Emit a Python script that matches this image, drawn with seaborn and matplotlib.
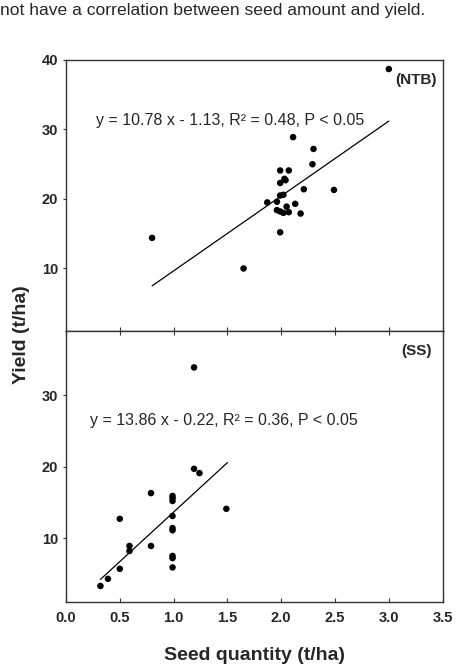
import seaborn as sns
import matplotlib.pyplot as plt
import pandas as pd

# datos
ntb_seed = [3.0, 0.8, 1.65, 2.11, 2.3, 2.29, 1.99, 2.07, 2.03, 2.04, 1.99, 2.21, 2.49,
            1.99, 2.02, 1.87, 1.96, 2.13, 2.05, 1.96, 1.99, 2.02, 2.07, 2.18, 1.99]
ntb_yield = [38.7, 14.4, 10.0, 28.9, 27.2, 25.0, 24.1, 24.1, 22.9, 22.7, 22.3, 21.4, 21.3,
             20.5, 20.6, 19.5, 19.6, 19.3, 18.9, 18.4, 18.2, 18.0, 18.1, 17.9, 15.2]
ss_seed = [1.19, 1.19, 1.24, 0.79, 0.99, 0.99, 0.99, 1.49, 0.99, 0.5, 0.99, 0.99, 0.59,
           0.79, 0.59, 0.99, 0.99, 0.5, 0.99, 0.39, 0.32]
ss_yield = [33.9, 19.7, 19.1, 16.3, 15.9, 15.6, 15.2, 14.1, 13.1, 12.7, 11.4, 11.1, 8.9,
            8.9, 8.2, 7.5, 7.2, 5.7, 5.9, 4.3, 3.3]

# rectas de regresion (pendiente, intercepto, rango x)
ntb_fit = (10.78, -1.13, [0.8, 3.0])
ss_fit = (13.86, -0.22, [0.32, 1.5])
ntb_eq = "y = 10.78 x - 1.13, R\u00b2 = 0.48, P < 0.05"
ss_eq = "y = 13.86 x - 0.22, R\u00b2 = 0.36, P < 0.05"

x_ticks = [0.0, 0.5, 1.0, 1.5, 2.0, 2.5, 3.0, 3.5]
x_labels = ["0.0", "0.5", "1.0", "1.5", "2.0", "2.5", "3.0", "3.5"]

sns.set_style("white")
plt.rcParams['font.family'] = ['Liberation Sans', 'DejaVu Sans']

fig = plt.figure(figsize=(4.74, 6.68), dpi=100)
ax1 = fig.add_axes([0.1392, 0.5045, 0.7947, 0.4057])
ax2 = fig.add_axes([0.1392, 0.0993, 0.7947, 0.4052])

paneles = [
    (ax1, ntb_seed, ntb_yield, ntb_fit, ntb_eq, "(NTB)", (1, 40), [10, 20, 30, 40], 0.0796, 0.776, 0.985, 0.926),
    (ax2, ss_seed, ss_yield, ss_fit, ss_eq, "(SS)", (1.1, 39), [10, 20, 30], 0.0637, 0.671, 0.972, 0.927),
]

for ax, xs, ys, fit, eq, etiqueta, ylim, yt, ex, ey, lx, ly in paneles:
    df = pd.DataFrame({"Seed": xs, "Yield": ys})
    sns.scatterplot(data=df, x="Seed", y="Yield", ax=ax, color="black", s=22,
                    edgecolor="none", linewidth=0)
    m, b, rango = fit
    linea = pd.DataFrame({"x": rango, "y": [m * v + b for v in rango]})
    sns.lineplot(data=linea, x="x", y="y", ax=ax, color="black", linewidth=0.9)
    ax.set_xlim(0, 3.5)
    ax.set_ylim(*ylim)
    ax.set_yticks(yt)
    ax.set_xticks(x_ticks)
    ax.set_xlabel("")
    ax.set_ylabel("")
    ax.text(ex, ey, eq, transform=ax.transAxes, fontsize=11.5, va="center", ha="left")
    ax.text(lx, ly, etiqueta, transform=ax.transAxes,
            fontsize=11, fontweight="bold", ha="right", va="center")
    for s in ax.spines.values():
        s.set_color("#333333")
        s.set_linewidth(1.0)
    ax.tick_params(axis="y", direction="out", length=2.5, width=0.8, color="#333333",
                   labelsize=10.5, pad=3, left=True)
    ax.tick_params(axis="x", direction="in", length=3, width=0.8, color="#333333",
                   labelsize=10.5, pad=7, bottom=True)
    for lab in ax.get_yticklabels():
        lab.set_fontweight("bold")

ax1.tick_params(axis="x", labelbottom=False)
ax2.tick_params(axis="x", top=True)
ax2.set_xticklabels(x_labels, fontweight="bold")

fig.text(0.045, 0.4985, "Yield (t/ha)", rotation=90, fontsize=14, fontweight="bold",
         ha="center", va="center")
fig.text(0.536, 0.019, "Seed quantity (t/ha)", fontsize=14, fontweight="bold",
         ha="center", va="center")
fig.text(0.0, 0.985, "not have a correlation between seed amount and yield.",
         fontsize=12.6, ha="left", va="center")

plt.savefig("out.png", dpi=100)
plt.close()
